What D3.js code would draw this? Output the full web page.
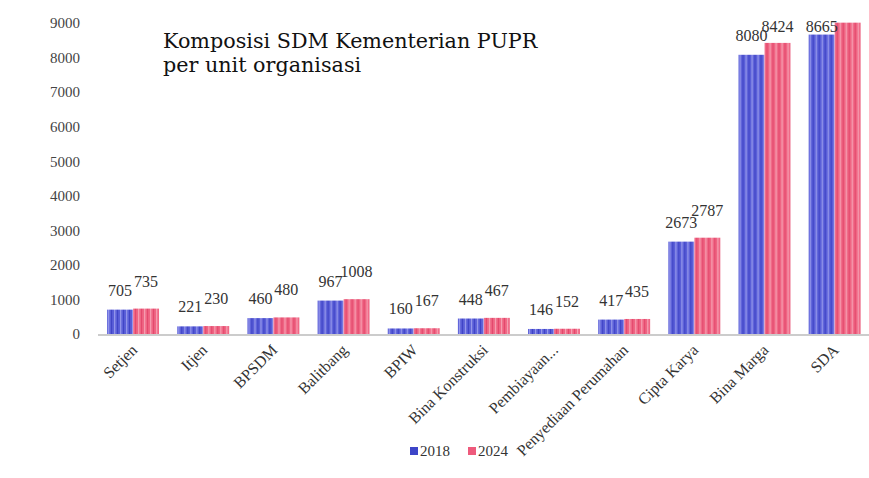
<!DOCTYPE html>
<html>
<head>
<meta charset="utf-8">
<script src="https://cdn.jsdelivr.net/npm/d3@7"></script>
<style>
  body { margin: 0; background: #fff; }
</style>
</head>
<body>
<div id="chart"></div>
<script>
// data
var units = ["Setjen", "Itjen", "BPSDM", "Balitbang", "BPIW", "Bina Konstruksi",
  "Pembiayaan...", "Penyediaan Perumahan", "Cipta Karya", "Bina Marga", "SDA"];
var years = ["2018", "2024"];
var sdm2018 = [705, 221, 460, 967, 160, 448, 146, 417, 2673, 8080, 8665];
var sdm2024 = [735, 230, 480, 1008, 167, 467, 152, 435, 2787, 8424, 9010];
var yTicks = [0, 1000, 2000, 3000, 4000, 5000, 6000, 7000, 8000, 9000];

var serif = "'Liberation Serif', 'DejaVu Serif', serif";
var titleFont = "'DejaVu Serif', 'Liberation Serif', serif";

var svgWidth = 869;
var svgHeight = 478;

var svg = d3.select("#chart")
  .append("svg")
  .attr("width", svgWidth)
  .attr("height", svgHeight)
  .style("font-family", serif);

// striped fills for the bars
var defs = svg.append("defs");
function stripes(id, base, light, dark) {
  var p = defs.append("pattern")
    .attr("id", id)
    .attr("patternUnits", "userSpaceOnUse")
    .attr("width", 6)
    .attr("height", 10);
  p.append("rect").attr("width", 6).attr("height", 10).attr("fill", base);
  p.append("rect").attr("x", 1).attr("width", 1.2).attr("height", 10).attr("fill", light);
  p.append("rect").attr("x", 4).attr("width", 1).attr("height", 10).attr("fill", dark);
}
stripes("blue", "#5a5fd8", "#9a9cec", "#3d41c4");
stripes("pink", "#ef6583", "#f6a3b5", "#e2456a");
var fills = ["url(#blue)", "url(#pink)"];
var legendColors = ["#3d45c8", "#ee5a7c"];

var x0 = d3.scaleBand()
  .domain(units)
  .range([98, 869.7])
  .paddingInner(0.26)
  .paddingOuter(0.13);

var x1 = d3.scaleBand()
  .domain(years)
  .range([0, x0.bandwidth()]);

var y = d3.scaleLinear()
  .domain([0, 9000])
  .range([334, 23]);

// y axis labels only, no line
var yAxis = svg.append("g")
  .attr("transform", "translate(80,0)")
  .call(d3.axisLeft(y).tickValues(yTicks).tickSize(0).tickPadding(0).tickFormat(d3.format("d")));
yAxis.select(".domain").remove();
yAxis.attr("font-family", null).attr("font-size", null);
yAxis.selectAll("text")
  .style("font-family", serif)
  .attr("font-size", 15)
  .attr("fill", "#444");

// bars
var rows = units.map(function(u, i) { return { unit: u, vals: [sdm2018[i], sdm2024[i]] }; });

var groups = svg.selectAll(".grp")
  .data(rows)
  .enter()
  .append("g")
  .attr("transform", d => `translate(${x0(d.unit)},0)`);

groups.selectAll("rect")
  .data(d => d.vals.map((v, j) => ({ year: years[j], v: v, j: j })))
  .enter()
  .append("rect")
  .attr("x", d => x1(d.year))
  .attr("y", d => y(d.v))
  .attr("width", x1.bandwidth())
  .attr("height", d => y(0) - y(d.v))
  .attr("fill", d => fills[d.j]);

// value labels, 2024 sits a bit higher like the original
groups.selectAll(".lbl")
  .data(d => d.vals.map((v, j) => ({ year: years[j], v: v, j: j })))
  .enter()
  .filter(d => y(d.v) > 28)
  .append("text")
  .attr("x", d => x1(d.year) + x1.bandwidth() / 2)
  .attr("y", d => Math.max(y(d.v) - (d.j ? 22 : 14), 32))
  .attr("text-anchor", "middle")
  .attr("font-size", 16)
  .attr("fill", "#333")
  .text(d => d.v);

// x axis
var xAxis = svg.append("g")
  .attr("transform", "translate(0,335)")
  .call(d3.axisBottom(x0).tickSize(0).tickPadding(0));
xAxis.attr("font-family", null).attr("font-size", null);
xAxis.select(".domain")
  .attr("d", "M98,0H869")
  .attr("stroke", "#bbb")
  .attr("stroke-width", 1.5);
xAxis.selectAll("text")
  .style("font-family", serif)
  .attr("font-size", 16)
  .attr("fill", "#333")
  .attr("text-anchor", "end")
  .attr("dy", null)
  .attr("transform", "translate(5,16) rotate(-45)");

// title
var title = svg.append("text")
  .attr("x", 163)
  .attr("y", 48)
  .style("font-family", titleFont)
  .attr("font-size", 20.7)
  .attr("fill", "#111");
title.append("tspan").attr("x", 163).text("Komposisi SDM Kementerian PUPR");
title.append("tspan").attr("x", 163).attr("dy", 24).text("per unit organisasi");

// legend
var legend = svg.selectAll(".leg")
  .data(years)
  .enter()
  .append("g")
  .attr("transform", (d, i) => `translate(${410 + i * 58},447)`);
legend.append("rect")
  .attr("width", 8)
  .attr("height", 8)
  .attr("fill", (d, i) => legendColors[i]);
legend.append("text")
  .attr("x", 10)
  .attr("y", 9)
  .attr("font-size", 15)
  .attr("fill", "#333")
  .text(d => d);
</script>
</body>
</html>
